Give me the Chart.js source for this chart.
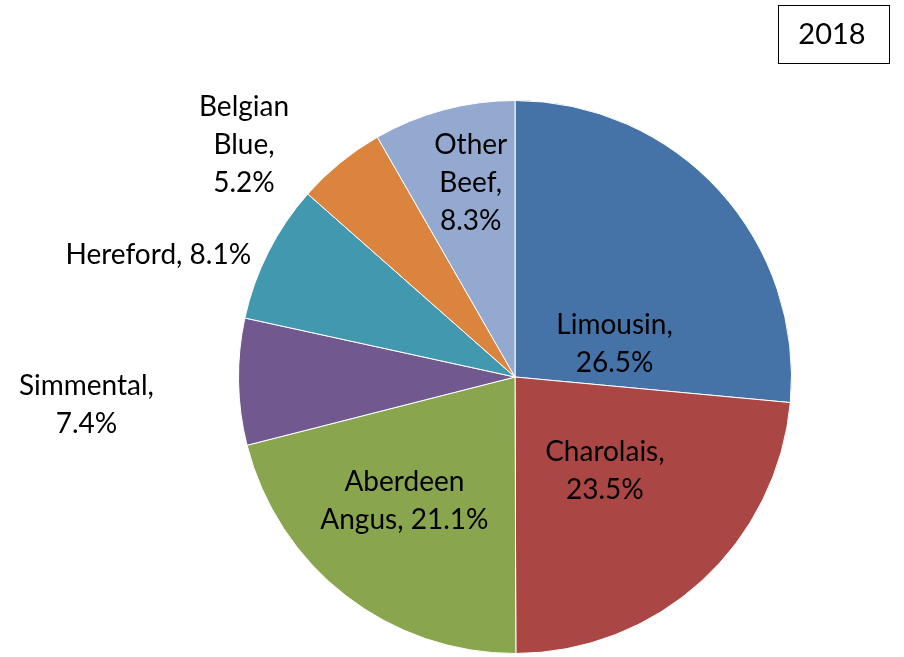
<!DOCTYPE html>
<html>
<head>
<meta charset="utf-8">
<script src="https://cdn.jsdelivr.net/npm/chart.js@4/dist/chart.umd.min.js"></script>
<style>
  html, body { margin: 0; padding: 0; background: #fff; }
  #wrap { position: relative; width: 904px; height: 657px; }
</style>
</head>
<body>
<div id="wrap"><canvas id="myChartPie" width="904" height="657"></canvas></div>
<script>
// 품종별 비율 (2018)
const breeds = ['Limousin', 'Charolais', 'Aberdeen Angus', 'Simmental', 'Hereford', 'Belgian Blue', 'Other Beef'];
const shares = [26.5, 23.5, 21.1, 7.4, 8.1, 5.2, 8.3];
const sliceColors = ['#4572A7', '#AA4643', '#89A54E', '#71588F', '#4198AF', '#DB843D', '#93A9CF'];
const yearLabel = '2018';

// 라벨 줄바꿈 + 위치 (파이 중심 기준, 반지름 비율)
const labelLines = [
  ['Limousin,', '26.5%'],
  ['Charolais,', '23.5%'],
  ['Aberdeen', 'Angus, 21.1%'],
  ['Simmental,', '7.4%'],
  ['Hereford, 8.1%'],
  ['Belgian', 'Blue,', '5.2%'],
  ['Other', 'Beef,', '8.3%']
];
const labelSpots = [
  [0.36, -0.12], [0.325, 0.34], [-0.40, 0.45], [-1.55, 0.10],
  [-1.29, -0.44], [-0.98, -0.84], [-0.16, -0.70]
];

const FONT = 'Lato, "Open Sans", sans-serif';

const sliceText = {
  id: 'sliceText',
  afterDatasetsDraw(chart) {
    const { ctx } = chart;
    const arcs = chart.getDatasetMeta(0).data;
    ctx.save();
    ctx.font = `28px ${FONT}`;
    ctx.fillStyle = '#000';
    ctx.textAlign = 'center';
    ctx.textBaseline = 'middle';
    arcs.forEach((arc, i) => {
      const r = arc.outerRadius;
      const cx = arc.x + labelSpots[i][0] * r;
      const cy = arc.y + labelSpots[i][1] * r;
      const lines = labelLines[i];
      const lh = 38;
      lines.forEach((t, k) => {
        ctx.fillText(t, cx, cy + (k - (lines.length - 1) / 2) * lh);
      });
    });
    ctx.restore();
  }
};

const yearBox = {
  id: 'yearBox',
  afterDraw(chart) {
    const { ctx } = chart;
    ctx.save();
    ctx.strokeStyle = '#000';
    ctx.lineWidth = 1;
    ctx.strokeRect(778.5, 5.5, 111, 58);
    ctx.font = `29px ${FONT}`;
    ctx.fillStyle = '#000';
    ctx.textAlign = 'center';
    ctx.textBaseline = 'middle';
    ctx.fillText(yearLabel, 832, 35);
    ctx.restore();
  }
};

const configPie = {
  type: 'pie',
  data: {
    labels: breeds,
    datasets: [{
      data: shares,
      backgroundColor: sliceColors,
      borderColor: '#fff',
      borderWidth: 1,
      hoverOffset: 0
    }]
  },
  options: {
    responsive: false,
    animation: false,
    layout: {
      padding: { top: 100, bottom: 3, left: 238, right: 112 }
    },
    plugins: {
      legend: { display: false },
      tooltip: { enabled: false }
    }
  },
  plugins: [sliceText, yearBox]
};

const myChartPie = new Chart(document.getElementById('myChartPie'), configPie);
</script>
</body>
</html>
